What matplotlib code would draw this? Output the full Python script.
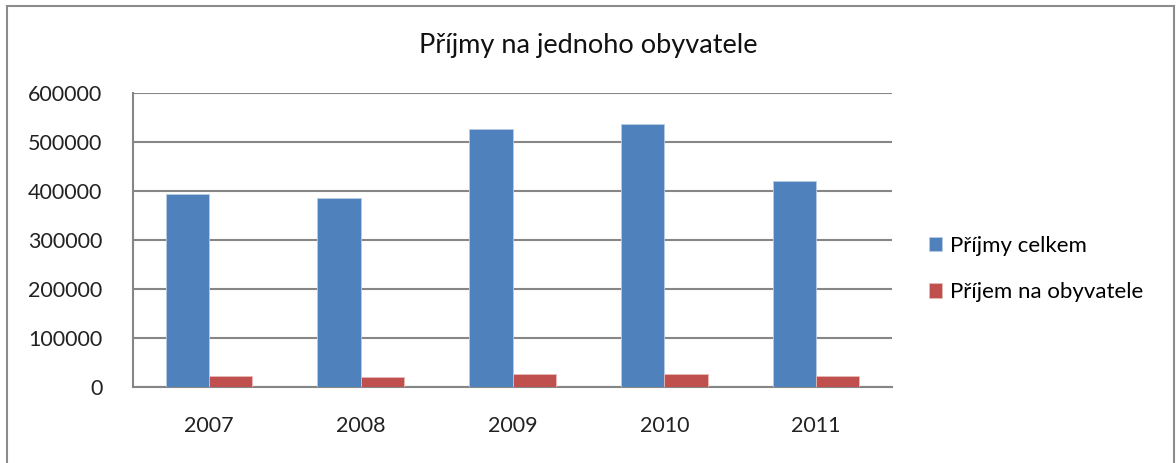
import numpy as np
import matplotlib
matplotlib.use("Agg")
import matplotlib.pyplot as plt
from matplotlib.patches import Rectangle

plt.rcParams['font.family'] = ['Lato', 'DejaVu Sans']

# DATA
roky = ["2007", "2008", "2009", "2010", "2011"]
prijmy_celkem = [393000, 386000, 527000, 537000, 420000]
prijem_na_obyv = [22500, 20500, 27000, 27000, 22500]

modra = "#4F81BD"
cervena = "#C0504D"
seda = "#868686"

fig = plt.figure(figsize=(11.76, 4.63), dpi=100)

# ramecek kolem grafu
fig.patches.append(Rectangle((7/1176, -0.01), (1174-7)/1176, 1 - 6/463 + 0.01,
                             transform=fig.transFigure, fill=False,
                             edgecolor="#8c8c8c", linewidth=1.5))

ax = fig.add_axes([133/1176, 1 - 387/463, (892-133)/1176, (387-93)/463])

x = np.arange(len(roky))
w = 1/3.5
ax.bar(x - w/2, prijmy_celkem, w, color=modra, edgecolor="#b8cce4",
       linewidth=0.6, label="Příjmy celkem", zorder=3)
ax.bar(x + w/2, prijem_na_obyv, w, color=cervena, edgecolor="#e6b9b8",
       linewidth=0.6, label="Příjem na obyvatele", zorder=3)

ax.set_xlim(-0.5, len(roky) - 0.5)
ax.set_ylim(0, 600000)
ax.set_yticks(np.arange(0, 600001, 100000))
ax.set_yticklabels([str(v) for v in range(0, 600001, 100000)])
ax.set_xticks(x)
ax.set_xticklabels(roky)
ax.tick_params(axis='both', length=0, labelsize=15.5, colors="#222222")
ax.tick_params(axis='y', pad=22)
ax.tick_params(axis='x', pad=21)

ax.grid(axis='y', color=seda, linewidth=1.5, zorder=0)
for s in ["top", "right"]:
    ax.spines[s].set_visible(False)
for s in ["left", "bottom"]:
    ax.spines[s].set_color(seda)
    ax.spines[s].set_linewidth(1.5)

fig.text(588/1176, 1 - 45/463, "Příjmy na jednoho obyvatele", ha="center",
         va="center", fontsize=19.5, color="#111111")

ax.legend(loc="center left", bbox_to_anchor=(909/1176, 1 - 269/463),
          bbox_transform=fig.transFigure, frameon=False, fontsize=16,
          handlelength=0.6, handleheight=0.6, handletextpad=0.35,
          labelspacing=1.2)

fig.savefig("out.png", dpi=100)
